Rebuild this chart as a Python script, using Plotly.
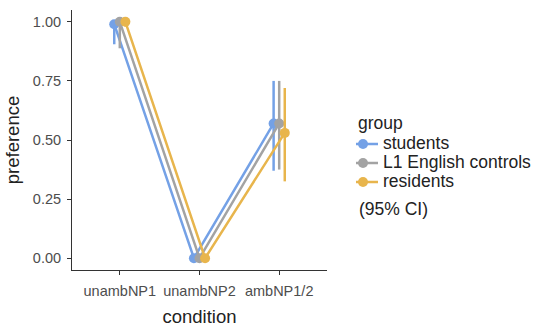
import plotly.graph_objects as go

conditions = ["unambNP1", "unambNP2", "ambNP1/2"]
groups = ["students", "L1 English controls", "residents"]
colors = ["#74a1e6", "#a3a3a3", "#e8b54c"]

pref_students = [0.99, 0.0, 0.57]
lo_students = [0.905, 0.0, 0.37]
hi_students = [1.0, 0.0, 0.75]

pref_controls = [1.0, 0.0, 0.57]
lo_controls = [0.888, 0.0, 0.375]
hi_controls = [1.0, 0.0, 0.75]

pref_residents = [1.0, 0.0, 0.53]
lo_residents = [0.98, 0.0, 0.325]
hi_residents = [1.0, 0.0, 0.72]

series = [
    (pref_students, lo_students, hi_students),
    (pref_controls, lo_controls, hi_controls),
    (pref_residents, lo_residents, hi_residents),
]
dodge = [-0.07, 0.0, 0.07]

fig = go.Figure()
for g, col, (p, lo, hi), d in zip(groups, colors, series, dodge):
    xs = [i + 1 + d for i in range(len(conditions))]
    fig.add_trace(go.Scatter(
        x=xs, y=p, name='<span style="font-size:17.5px">' + g + '</span>',
        mode="lines+markers",
        line=dict(color=col, width=2.5),
        marker=dict(color=col, size=10),
        error_y=dict(type="data", symmetric=False,
                     array=[h - v for h, v in zip(hi, p)],
                     arrayminus=[v - l for v, l in zip(p, lo)],
                     color=col, thickness=2.5, width=0),
    ))

fig.update_layout(
    template="none",
    width=550, height=331, autosize=False,
    margin=dict(l=72, r=223, t=10, b=61, autoexpand=False),
    paper_bgcolor="white", plot_bgcolor="white",
    font=dict(family="Liberation Sans, Arial, sans-serif", color="#222"),
    hovermode=False,
    xaxis=dict(range=[0.4, 3.6], tickvals=[1, 2, 3], ticktext=conditions, automargin=False,
               showgrid=False, zeroline=False, showline=True, linecolor="#333",
               linewidth=1, ticks="outside", ticklen=4, tickcolor="#333",
               tickfont=dict(size=14.5, color="#4d4d4d"), ticklabelstandoff=4,
               title=dict(text="condition", font=dict(size=18.5, color="#222"), standoff=11)),
    yaxis=dict(range=[-0.05, 1.05], tickvals=[0, 0.25, 0.5, 0.75, 1.0], automargin=False,
               ticktext=["0.00", "0.25", "0.50", "0.75", "1.00"],
               showgrid=False, zeroline=False, showline=True, linecolor="#333",
               linewidth=1, ticks="outside", ticklen=4, tickcolor="#333",
               tickfont=dict(size=14.5, color="#4d4d4d"), ticklabelstandoff=3,
               title=dict(text="preference", font=dict(size=18.5, color="#222"), standoff=8)),
    legend=dict(title=dict(text="group", font=dict(size=17.5)), font=dict(size=12, color="#222"),
                x=(356 - 72) / 255, y=0.455, xanchor="left", yanchor="middle",
                tracegroupgap=0, itemwidth=30, indentation=-13),
    annotations=[dict(text="(95% CI)", xref="paper", yref="paper", x=(357 - 72) / 255,
                      y=(270 - 209) / 260, xanchor="left", yanchor="middle", showarrow=False,
                      font=dict(size=17.5, color="#222"))],
)

fig.write_html("out.html", config={"displayModeBar": False},
               post_script="document.body.style.margin='0px';")
